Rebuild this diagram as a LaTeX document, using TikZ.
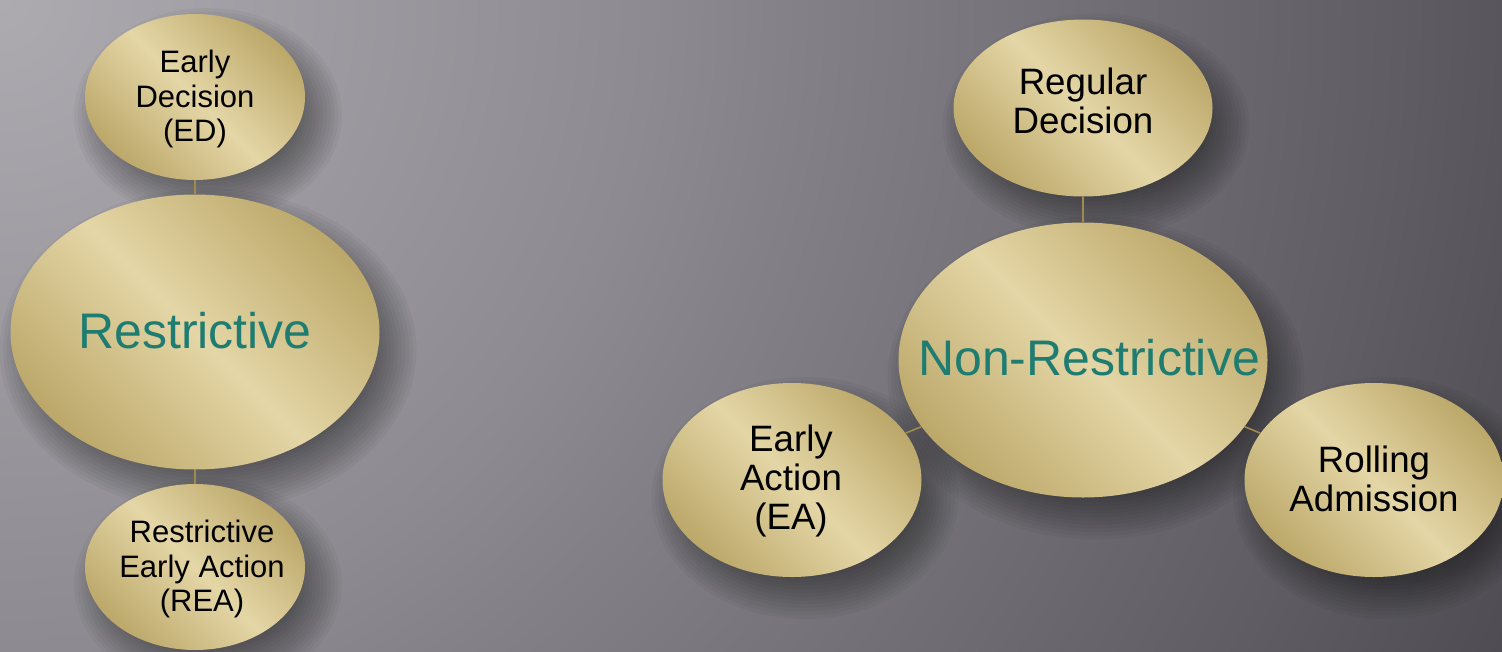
\documentclass[tikz,border=0pt]{standalone}
\usepackage{fontspec}
\setmainfont{Liberation Sans}
\usetikzlibrary{shapes.geometric}
\definecolor{bgA}{HTML}{ADABB0}
\definecolor{bgB}{HTML}{8D8B91}
\definecolor{bgC}{HTML}{838187}
\definecolor{bgD}{HTML}{5F5D63}
\definecolor{bgE}{HTML}{4E4C52}
\definecolor{goldD}{HTML}{BCA86A}
\definecolor{goldL}{HTML}{E4D6A6}
\definecolor{tealtxt}{HTML}{1E7C70}
\definecolor{linkc}{HTML}{A08A4C}
\pgfdeclareradialshading{bgshade}{\pgfpoint{0bp}{0bp}}{color(0bp)=(bgA); color(9.85bp)=(bgB); color(12.1bp)=(bgC); color(21.2bp)=(bgD); color(25bp)=(bgE); color(50bp)=(bgE)}
\begin{document}
\begin{tikzpicture}[x=1pt,y=-1pt,
  bubble/.style={ellipse, inner sep=0pt, draw=none,
    top color=goldD, bottom color=goldD, middle color=goldL, shading angle=135},
  small/.style={bubble, minimum width=220pt, minimum height=166pt},
  mid/.style={bubble, minimum width=259pt, minimum height=194pt},
  big/.style={bubble, minimum width=369pt, minimum height=275pt},
  shadowlayer/.style={fill=black, fill opacity=0.035, draw=none},
  smalltxt/.style={align=center, inner sep=0pt, text=black, font=\fontsize{31}{34.5}\selectfont},
  midtxt/.style={align=center, inner sep=0pt, text=black, font=\fontsize{36.7}{39}\selectfont},
  bigtxt/.style={align=center, inner sep=0pt, text=tealtxt, font=\fontsize{50}{55}\selectfont},
  link/.style={draw=linkc, line width=1.6pt}]
\begin{scope}
  \clip (0,0) rectangle (1502,651);
  \shade[shading=bgshade] (0,0) circle (1650pt);
  % soft drop shadows
  \foreach \cx/\cy/\rx/\ry in {195/97/110/83, 195/332/184.5/137.5, 195/567/110/83,
      1083/108/129.5/88.5, 1083/360/184.5/137.5, 792/480/129.5/97, 1374/480/129.5/97} {
    \foreach \k in {0,...,13} {
      \path[shadowlayer] ({\cx+13},{\cy+18}) ellipse ({\rx+24-3.7*\k} and {\ry+24-3.7*\k});
    }
  }
\end{scope}
\useasboundingbox (0,0) rectangle (1502,651);

% left group
\node[small] (ed) at (195,97) {};
\node[big] (res) at (195,332) {};
\node[small] (rea) at (195,567) {};
\draw[link] (ed) -- (res);
\draw[link] (res) -- (rea);
\node[smalltxt] (edt) at (195,99) {Early\\Decision\\(ED)};
\node[bigtxt] (rest) at (195,331) {Restrictive};
\node[smalltxt] (reat) at (202,569) {Restrictive\\Early Action\\(REA)};

% right group
\node[bubble, minimum width=259pt, minimum height=177pt] (reg) at (1083,108) {};
\node[big] (nr) at (1083,360) {};
\node[mid] (ea) at (792,480) {};
\node[mid] (ra) at (1374,480) {};
\draw[link] (reg) -- (nr);
\draw[link] (nr) -- (ea);
\draw[link] (nr) -- (ra);
\node[midtxt] (regt) at (1083,101) {Regular\\Decision};
\node[bigtxt] (nrt) at (1089,358) {Non-Restrictive};
\node[midtxt] (eat) at (791,481) {Early\\Action\\(EA)};
\node[midtxt] (rat) at (1374,479) {Rolling\\Admission};
\end{tikzpicture}
\end{document}
